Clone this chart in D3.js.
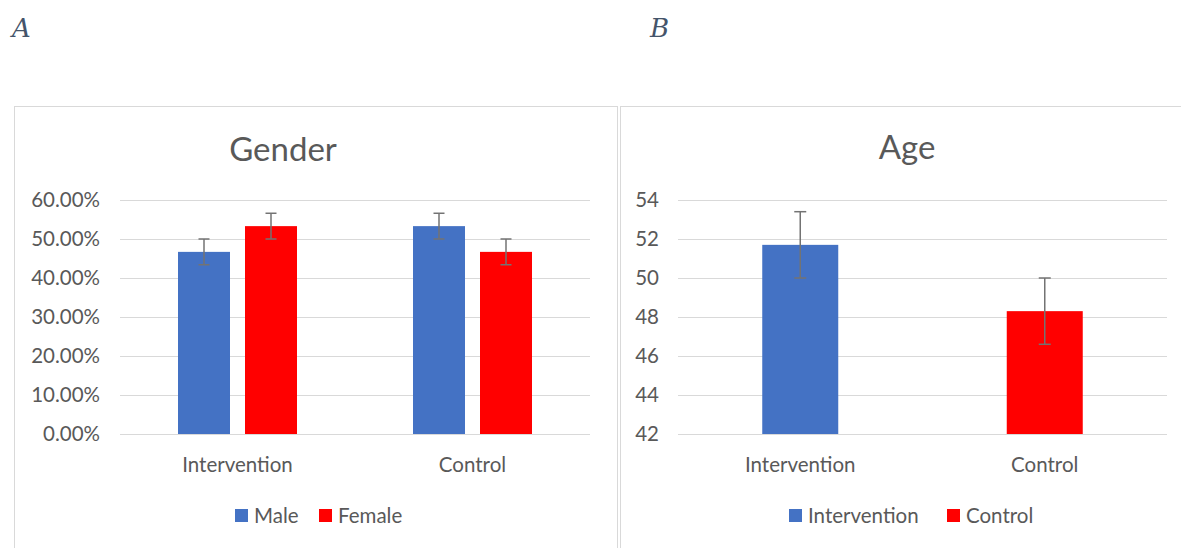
<!DOCTYPE html>
<html>
<head>
<meta charset="utf-8">
<script src="https://cdn.jsdelivr.net/npm/d3@7"></script>
<style>
  body { margin: 0; background: #fff; }
  text { font-family: Lato, "Open Sans", sans-serif; fill: #595959; }
  .grid line { stroke: #d9d9d9; stroke-width: 1; }
  .grid text { font-size: 20.5px; }
</style>
</head>
<body>
<div id="chart"></div>
<script>
// data
var groups = ["Intervention", "Control"];

var genderSeries = ["Male", "Female"];
var maleValues = [0.467, 0.533];
var femaleValues = [0.533, 0.467];
var maleErr = [0.033, 0.033];
var femaleErr = [0.033, 0.033];
var genderTicks = [0, 0.1, 0.2, 0.3, 0.4, 0.5, 0.6];

var ageSeries = ["Intervention", "Control"];
var ageValues = [51.7, 48.3];
var ageErr = [1.7, 1.7];
var ageTicks = [42, 44, 46, 48, 50, 52, 54];

var blue = "#4472C4",
    red = "#FF0000",
    errColor = "#737373";

var svg = d3.select("#chart").append("svg")
  .attr("width", 1181)
  .attr("height", 548);

function translate(x, y) { return "translate(" + x + "," + y + ")"; }

// panel frames
svg.append("rect").attr("x", 14.5).attr("y", 106.5).attr("width", 603).attr("height", 470)
  .style("fill", "none").style("stroke", "#d9d9d9");
svg.append("rect").attr("x", 620.5).attr("y", 106.5).attr("width", 600).attr("height", 470)
  .style("fill", "none").style("stroke", "#d9d9d9");

// panel letters
svg.selectAll(".panelLetter")
  .data([["A", 12], ["B", 650]])
  .enter().append("text")
  .attr("class", "panelLetter")
  .attr("x", function(d) { return d[1]; })
  .attr("y", 37)
  .style("font-family", "'DejaVu Serif', 'Liberation Serif', serif")
  .style("font-style", "italic")
  .style("font-size", "26px")
  .style("fill", "#44546A")
  .text(function(d) { return d[0]; });

// ---------- A: Gender ----------
var gA = { left: 120, right: 590, top: 200, bot: 434 };

var xA = d3.scaleBand().domain(groups).range([gA.left, gA.right]);
var yA = d3.scaleLinear().domain([0, 0.6]).range([gA.bot, gA.top]);

svg.append("g")
  .attr("class", "grid")
  .attr("transform", translate(gA.left, 0))
  .call(d3.axisLeft(yA).tickValues(genderTicks).tickFormat(d3.format(".2%"))
    .tickSize(-(gA.right - gA.left)).tickPadding(20))
  .call(function(g) { g.select(".domain").remove(); });

svg.append("text")
  .attr("x", 283).attr("y", 161)
  .attr("text-anchor", "middle")
  .style("font-size", "33px")
  .text("Gender");

var barWA = 52, gapA = 15;
var genderRows = [];
groups.forEach(function(gr, i) {
  genderRows.push({ group: gr, s: 0, v: maleValues[i], e: maleErr[i], c: blue });
  genderRows.push({ group: gr, s: 1, v: femaleValues[i], e: femaleErr[i], c: red });
});

function xPosA(d) {
  var mid = xA(d.group) + xA.bandwidth() / 2;
  return d.s == 0 ? mid - gapA / 2 - barWA : mid + gapA / 2;
}

svg.append("g").selectAll("rect")
  .data(genderRows).enter().append("rect")
  .attr("x", xPosA)
  .attr("y", function(d) { return yA(d.v); })
  .attr("width", barWA)
  .attr("height", function(d) { return yA(0) - yA(d.v); })
  .style("fill", function(d) { return d.c; });

drawErr(genderRows, function(d) { return xPosA(d) + barWA / 2; }, yA, 11);

svg.append("g").selectAll("text")
  .data(groups).enter().append("text")
  .attr("x", function(d) { return xA(d) + xA.bandwidth() / 2; })
  .attr("y", 472)
  .attr("text-anchor", "middle")
  .style("font-size", "20.5px")
  .text(function(d) { return d; });

drawLegend(genderSeries, [blue, red], [235, 319]);

// ---------- B: Age ----------
var gB = { left: 678, right: 1167, top: 200, bot: 434 };

var xB = d3.scaleBand().domain(groups).range([gB.left, gB.right]);
var yB = d3.scaleLinear().domain([42, 54]).range([gB.bot, gB.top]);

svg.append("g")
  .attr("class", "grid")
  .attr("transform", translate(gB.left, 0))
  .call(d3.axisLeft(yB).tickValues(ageTicks).tickFormat(d3.format("d"))
    .tickSize(-(gB.right - gB.left)).tickPadding(19))
  .call(function(g) { g.select(".domain").remove(); });

svg.append("text")
  .attr("x", 907).attr("y", 159)
  .attr("text-anchor", "middle")
  .style("font-size", "33px")
  .text("Age");

var barWB = 76;
var ageRows = groups.map(function(gr, i) {
  return { group: gr, v: ageValues[i], e: ageErr[i], c: i == 0 ? blue : red };
});

svg.append("g").selectAll("rect")
  .data(ageRows).enter().append("rect")
  .attr("x", function(d) { return xB(d.group) + xB.bandwidth() / 2 - barWB / 2; })
  .attr("y", function(d) { return yB(d.v); })
  .attr("width", barWB)
  .attr("height", function(d) { return yB(42) - yB(d.v); })
  .style("fill", function(d) { return d.c; });

drawErr(ageRows, function(d) { return xB(d.group) + xB.bandwidth() / 2; }, yB, 12);

svg.append("g").selectAll("text")
  .data(groups).enter().append("text")
  .attr("x", function(d) { return xB(d) + xB.bandwidth() / 2; })
  .attr("y", 472)
  .attr("text-anchor", "middle")
  .style("font-size", "20.5px")
  .text(function(d) { return d; });

drawLegend(ageSeries, [blue, red], [789, 947]);

// error bars with caps
function drawErr(rows, cx, y, cap) {
  var g = svg.append("g").style("stroke", errColor).style("stroke-width", 1.5);
  rows.forEach(function(d) {
    var x = cx(d);
    g.append("line").attr("x1", x).attr("x2", x)
      .attr("y1", y(d.v + d.e)).attr("y2", y(d.v - d.e));
    [d.v + d.e, d.v - d.e].forEach(function(v) {
      g.append("line").attr("x1", x - cap / 2).attr("x2", x + cap / 2)
        .attr("y1", y(v)).attr("y2", y(v));
    });
  });
}

function drawLegend(names, colors, xs) {
  var lg = svg.append("g").selectAll("g")
    .data(names).enter().append("g")
    .attr("transform", function(d, i) { return translate(xs[i], 509); });
  lg.append("rect").attr("width", 13).attr("height", 13)
    .style("fill", function(d, i) { return colors[i]; });
  lg.append("text").attr("x", 19).attr("y", 13.5)
    .style("font-size", "20.5px")
    .text(function(d) { return d; });
}
</script>
</body>
</html>
